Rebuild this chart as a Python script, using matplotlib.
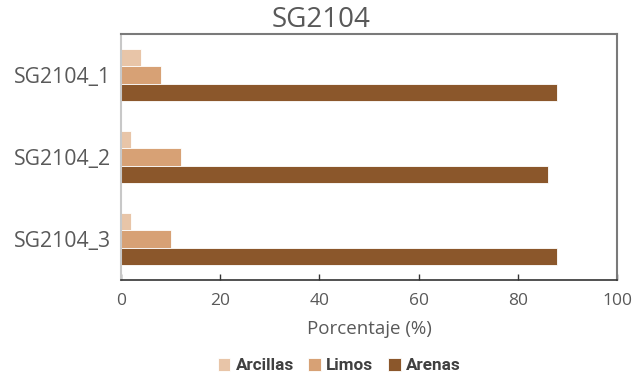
import matplotlib
matplotlib.use("Agg")
import matplotlib.pyplot as plt
import numpy as np

plt.rcParams['font.family'] = ['Open Sans', 'DejaVu Sans']

samples = ["SG2104_1", "SG2104_2", "SG2104_3"]
series = ["Arcillas", "Limos", "Arenas"]
arcillas = [4, 2, 2]
limos = [8, 12, 10]
arenas = [88, 86, 88]
xticks = [0, 20, 40, 60, 80, 100]

colors = ["#E8C5A8", "#D7A175", "#8B572B"]
text_color = "#595959"

fig = plt.figure(figsize=(6.42, 3.81), dpi=100)
ax = fig.add_axes([0.1885, 0.265, 0.7725, 0.646])

y = np.arange(len(samples))
h = 0.213
for i, (vals, name, col) in enumerate(zip([arcillas, limos, arenas], series, colors)):
    ax.barh(y + (i - 1) * h, vals, height=h, color=col, edgecolor="white",
            linewidth=0.6, label=name)

ax.set_ylim(2.5, -0.5)
ax.set_xlim(0, 100)
ax.set_xticks(xticks)
ax.set_yticks(y)
ax.set_yticklabels(samples, fontsize=15.3, color=text_color)
ax.tick_params(axis='x', direction='in', length=4, width=1, color="#333333",
               labelsize=12.5, labelcolor=text_color, pad=9)
ax.tick_params(axis='y', length=0, pad=7)

ax.spines['bottom'].set_color("#333333")
ax.spines['bottom'].set_linewidth(1.2)
ax.spines['left'].set_color("#C8C8C8")
ax.spines['left'].set_linewidth(1.5)
for s in ('top', 'right'):
    ax.spines[s].set_color("#7A7A7A")
    ax.spines[s].set_linewidth(1.5)

ax.set_xlabel("Porcentaje (%)", fontsize=13.5, color=text_color, labelpad=8)
fig.suptitle("SG2104", x=0.5, y=0.985, fontsize=20, color=text_color)

leg = fig.legend(loc='center', bbox_to_anchor=(339 / 642, 0.04), ncol=3,
                 frameon=False, handlelength=0.75, handleheight=0.75,
                 handletextpad=0.3, columnspacing=0.85,
                 prop={'family': ['Roboto', 'DejaVu Sans'], 'weight': 'bold', 'size': 12.3})
for t in leg.get_texts():
    t.set_color("#404040")

fig.savefig("out.png", dpi=100, facecolor="white")
